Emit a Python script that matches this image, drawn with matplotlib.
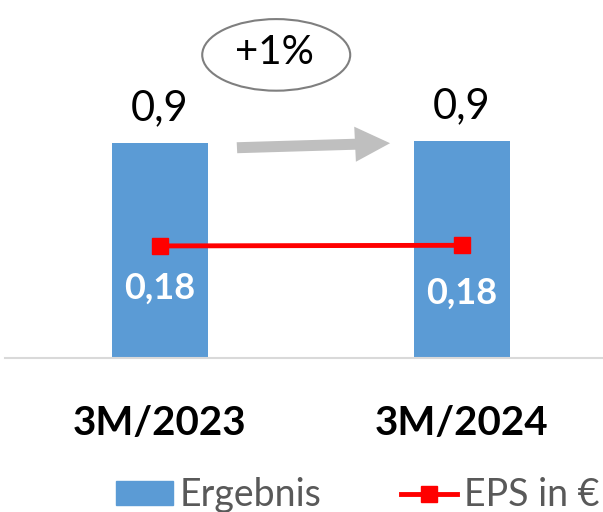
import matplotlib.pyplot as plt
from matplotlib.patches import Ellipse, FancyArrow, Patch
from matplotlib.lines import Line2D

plt.rcParams['font.family'] = ['Lato', 'DejaVu Sans']

categories = ['3M/2023', '3M/2024']
ergebnis = [0.9, 0.91]
ergebnis_labels = ['0,9', '0,9']
eps = [0.18, 0.181]
eps_labels = ['0,18', '0,18']
change_label = '+1%'

blue = '#5B9BD5'
red = '#FF0000'

fig = plt.figure(figsize=(6.03, 5.12), dpi=100)
ax = fig.add_axes([0.0083, 0.3008, 0.9917, 0.6992])
ax2 = ax.twinx()

x = list(range(len(categories)))
ax.bar(x, ergebnis, width=0.315, color=blue, zorder=2)
ax.set_xlim(-0.513, 1.467)
ax.set_ylim(0, 1.5)

for xi, v, lab in zip(x, ergebnis, ergebnis_labels):
    ax.text(xi, v + 0.065, lab, ha='center', va='bottom', fontsize=30, color='black')

ax2.plot(x, eps, color=red, lw=3.5, marker='s', markersize=12, zorder=3)
ax2.set_ylim(0, 0.575)
for xi, v, lab in zip(x, eps, eps_labels):
    ax2.text(xi, v - 0.068 - 0.009 * xi, lab, ha='center', va='center', fontsize=26,
             fontweight='bold', color='white')

for a in (ax, ax2):
    a.set_yticks([])
    for s in a.spines.values():
        s.set_visible(False)
ax.spines['bottom'].set_visible(True)
ax.spines['bottom'].set_color('#D9D9D9')
ax.spines['bottom'].set_linewidth(1.5)
ax.set_xticks(x)
ax.set_xticklabels(categories, fontsize=29, fontweight='bold')
ax.tick_params(axis='x', length=0, pad=34)

# growth arrow and bubble
ax.add_patch(FancyArrow(0.255, 0.881, 0.507, 0.019, width=0.046, head_width=0.147,
                        head_length=0.116, length_includes_head=True,
                        color='#BFBFBF', lw=0, zorder=2))
ax.add_patch(Ellipse((0.385, 1.27), 0.49, 0.3, fill=False, ec='#7F7F7F', lw=1.5,
                     clip_on=False))
ax.text(0.38, 1.28, change_label, ha='center', va='center', fontsize=29)

handles = [Patch(color=blue, label='Ergebnis'),
           Line2D([], [], color=red, lw=3.5, marker='s', markersize=12, label='EPS in €')]
fig.legend(handles=handles, loc='center', bbox_to_anchor=(0.594, 0.033), ncol=2,
           frameon=False, fontsize=27, labelcolor='#595959', handlelength=1.5,
           handleheight=0.6, handletextpad=0.2, columnspacing=2.1)

fig.savefig('out.png', dpi=100)
